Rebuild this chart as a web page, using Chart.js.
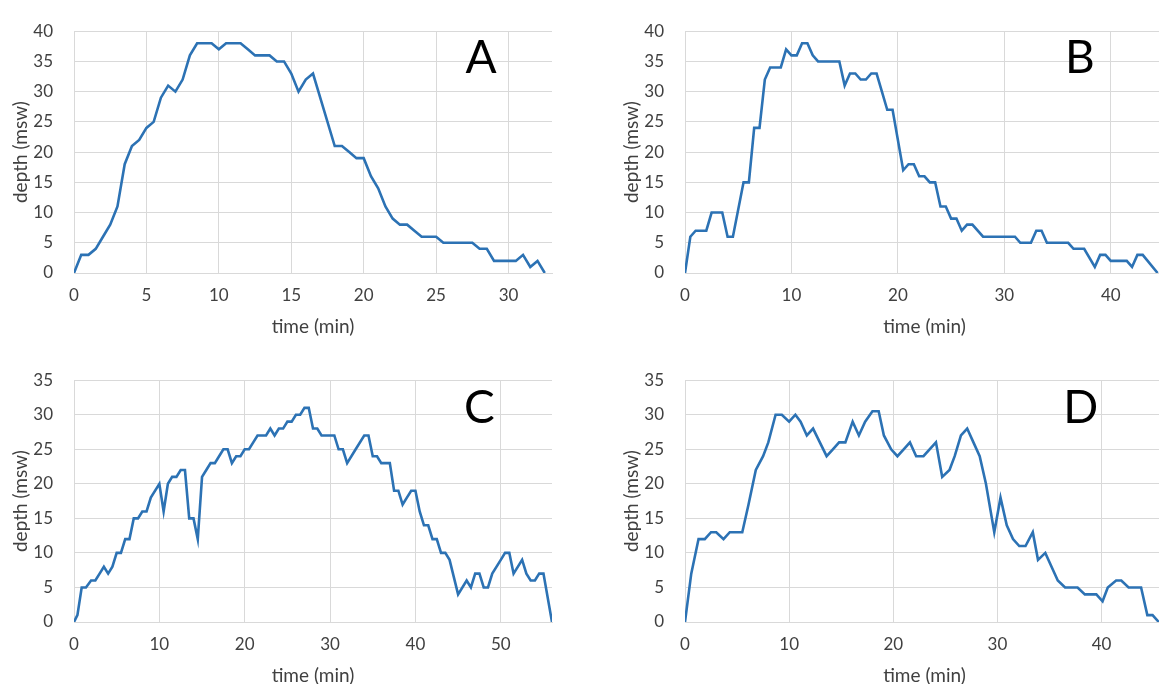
<!DOCTYPE html>
<html>
<head>
<meta charset="utf-8">
<script src="https://cdn.jsdelivr.net/npm/chart.js@4"></script>
<style>
    body { margin: 0; background: #fff; overflow: hidden; width: 1159px; height: 684px; position: relative; }
    canvas { position: absolute; }
</style>
</head>
<body>
<canvas id="chartA" width="560" height="345" style="left:0;top:0"></canvas>
<canvas id="chartB" width="561" height="345" style="left:611px;top:0"></canvas>
<canvas id="chartC" width="560" height="345" style="left:0;top:349px"></canvas>
<canvas id="chartD" width="561" height="345" style="left:611px;top:349px"></canvas>
<script>
// dive profile A
const timeA = [0, 0.5, 1, 1.5, 2, 2.5, 3, 3.5, 4, 4.5, 5, 5.5, 6, 6.5, 7, 7.5, 8, 8.5, 9, 9.5,
    10, 10.5, 11, 11.5, 12, 12.5, 13, 13.5, 14, 14.5, 15, 15.5, 16, 16.5, 18, 18.5, 19, 19.5,
    20, 20.5, 21, 21.5, 22, 22.5, 23, 23.5, 24, 24.5, 25, 25.5, 26, 26.5, 27, 27.5, 28, 28.5,
    29, 29.5, 30, 30.5, 31, 31.5, 32, 32.5];
const depthA = [0, 3, 3, 4, 6, 8, 11, 18, 21, 22, 24, 25, 29, 31, 30, 32, 36, 38, 38, 38,
    37, 38, 38, 38, 37, 36, 36, 36, 35, 35, 33, 30, 32, 33, 21, 21, 20, 19,
    19, 16, 14, 11, 9, 8, 8, 7, 6, 6, 6, 5, 5, 5, 5, 5, 4, 4,
    2, 2, 2, 2, 3, 1, 2, 0];

// dive profile B
const timeB = [0, 0.5, 1, 2, 2.5, 3.5, 4, 4.5, 5.5, 6, 6.5, 7, 7.5, 8, 9, 9.5, 10, 10.5, 11, 11.5,
    12, 12.5, 14.5, 15, 15.5, 16, 16.5, 17, 17.5, 18, 18.5, 19, 19.5, 20.5, 21, 21.5, 22, 22.5,
    23, 23.5, 24, 24.5, 25, 25.5, 26, 26.5, 27, 28, 31, 31.5, 32.5, 33, 33.5, 34, 36, 36.5,
    37.5, 38.5, 39, 39.5, 40, 41.5, 42, 42.5, 43, 44.4];
const depthB = [0, 6, 7, 7, 10, 10, 6, 6, 15, 15, 24, 24, 32, 34, 34, 37, 36, 36, 38, 38,
    36, 35, 35, 31, 33, 33, 32, 32, 33, 33, 30, 27, 27, 17, 18, 18, 16, 16,
    15, 15, 11, 11, 9, 9, 7, 8, 8, 6, 6, 5, 5, 7, 7, 5, 5, 4,
    4, 1, 3, 3, 2, 2, 1, 3, 3, 0];

// dive profile C
const timeC = [0, 0.4, 0.9, 1.4, 2, 2.5, 3, 3.5, 4, 4.5, 5, 5.5, 6, 6.5, 7, 7.5, 8, 8.5, 9, 10,
    10.5, 11, 11.5, 12, 12.5, 13, 13.5, 14, 14.5, 15, 15.5, 16, 16.5, 17, 17.5, 18, 18.5, 19,
    19.5, 20, 20.5, 21, 21.5, 22.5, 23, 23.5, 24, 24.5, 25, 25.5, 26, 26.5, 27, 27.5, 28, 28.5,
    29, 30.5, 31, 31.5, 32, 33, 34, 34.5, 35, 35.5, 36, 37, 37.5, 38, 38.5, 39, 39.5, 40,
    40.5, 41, 41.5, 42, 42.5, 43, 43.5, 44, 45, 46, 46.5, 47, 47.5, 48, 48.5, 49, 50, 50.5,
    51, 51.5, 52.5, 53, 53.5, 54, 54.5, 55, 56];
const depthC = [0, 1, 5, 5, 6, 6, 7, 8, 7, 8, 10, 10, 12, 12, 15, 15, 16, 16, 18, 20,
    16, 20, 21, 21, 22, 22, 15, 15, 12, 21, 22, 23, 23, 24, 25, 25, 23, 24,
    24, 25, 25, 26, 27, 27, 28, 27, 28, 28, 29, 29, 30, 30, 31, 31, 28, 28,
    27, 27, 25, 25, 23, 25, 27, 27, 24, 24, 23, 23, 19, 19, 17, 18, 19, 19,
    16, 14, 14, 12, 12, 10, 10, 9, 4, 6, 5, 7, 7, 5, 5, 7, 9, 10,
    10, 7, 9, 7, 6, 6, 7, 7, 0];

// dive profile D
const timeD = [0, 0.6, 1.3, 1.9, 2.5, 3, 3.7, 4.3, 5.5, 6.1, 6.8, 7.5, 8, 8.7, 9.3, 10, 10.6, 11.1,
    11.7, 12.3, 13.6, 14.2, 14.8, 15.4, 16.1, 16.7, 17.3, 18, 18.6, 19.1, 19.8, 20.4, 21, 21.6,
    22.2, 22.9, 24.1, 24.7, 25.4, 25.9, 26.5, 27.1, 27.7, 28.3, 28.9, 29.7, 30.3, 30.9, 31.5,
    32.1, 32.7, 33.4, 33.9, 34.6, 35.2, 35.8, 36.5, 37.7, 38.4, 39.5, 40.1, 40.6, 41.4, 41.9,
    42.6, 43.8, 44.4, 44.9, 45.5];
const depthD = [0, 7, 12, 12, 13, 13, 12, 13, 13, 17, 22, 24, 26, 30, 30, 29, 30, 29,
    27, 28, 24, 25, 26, 26, 29, 27, 29, 30.5, 30.5, 27, 25, 24, 25, 26,
    24, 24, 26, 21, 22, 24, 27, 28, 26, 24, 20, 13, 18, 14, 12,
    11, 11, 13, 9, 10, 8, 6, 5, 5, 4, 4, 3, 5, 6, 6,
    5, 5, 1, 1, 0];

const lineColor = '#2c72b4';
const gridColor = '#d9d9d9';
const textColor = '#404040';
const fontFamily = 'Lato, "Open Sans", sans-serif';

const letterPlugin = {
    id: 'panelLetter',
    afterDraw(chart, args, opts) {
        if (!opts.text) {
            return;
        }
        let ctx = chart.ctx;
        let x = chart.scales.x.getPixelForValue(opts.x);
        let y = chart.scales.y.getPixelForValue(opts.y);
        ctx.save();
        ctx.font = '46px ' + fontFamily;
        ctx.fillStyle = '#000';
        ctx.textAlign = 'center';
        ctx.textBaseline = 'middle';
        ctx.fillText(opts.text, x, y);
        ctx.restore();
    }
};
Chart.register(letterPlugin);

function buildPanel(id, times, depths, xMax, xStep, yMax, letter) {
    let points = [];
    for (let i = 0; i < times.length; ++i) {
        points.push({ x: times[i], y: depths[i] });
    }
    let ctx = document.getElementById(id).getContext('2d');
    return new Chart(ctx, {
        type: 'line',
        data: {
            datasets: [{
                data: points,
                borderColor: lineColor,
                borderWidth: 2.6,
                pointRadius: 0,
                tension: 0,
                fill: false
            }]
        },
        options: {
            responsive: false,
            animation: false,
            events: [],
            layout: { padding: { top: 22, right: 8, bottom: 0, left: 0 } },
            plugins: {
                legend: { display: false },
                tooltip: { enabled: false },
                panelLetter: letter
            },
            scales: {
                x: {
                    type: 'linear',
                    min: 0,
                    max: xMax,
                    // keep only the round ticks, the axis still runs to xMax
                    afterBuildTicks: function (scale) {
                        scale.ticks = scale.ticks.filter(t => t.value % xStep === 0);
                    },
                    afterFit: function (scale) {
                        scale.height = 72;
                        scale.paddingRight = 0;
                    },
                    grid: { color: gridColor, drawTicks: false },
                    border: { color: gridColor },
                    ticks: {
                        stepSize: xStep,
                        padding: 12,
                        color: textColor,
                        maxRotation: 0,
                        font: { family: fontFamily, size: 17 }
                    },
                    title: {
                        display: true,
                        text: 'time (min)',
                        color: textColor,
                        padding: { top: 0, bottom: 7 },
                        font: { family: fontFamily, size: 19 }
                    }
                },
                y: {
                    min: 0,
                    max: yMax,
                    afterFit: function (scale) { scale.width = 74; },
                    grid: { color: gridColor, drawTicks: false },
                    border: { color: gridColor },
                    ticks: {
                        stepSize: 5,
                        padding: 21,
                        color: textColor,
                        font: { family: fontFamily, size: 17 }
                    },
                    title: {
                        display: true,
                        text: 'depth (msw)',
                        color: textColor,
                        padding: { top: 9, bottom: 0 },
                        font: { family: fontFamily, size: 19 }
                    }
                }
            }
        }
    });
}

window.onload = function () {
    buildPanel('chartA', timeA, depthA, 33, 5, 40, { text: 'A', x: 28.1, y: 35.6 });
    buildPanel('chartB', timeB, depthB, 45, 10, 40, { text: 'B', x: 37.1, y: 35.5 });
    buildPanel('chartC', timeC, depthC, 56, 10, 35, { text: 'C', x: 47.5, y: 30.9 });
    buildPanel('chartD', timeD, depthD, 46, 10, 35, { text: 'D', x: 38.0, y: 30.9 });
};
</script>
</body>
</html>
